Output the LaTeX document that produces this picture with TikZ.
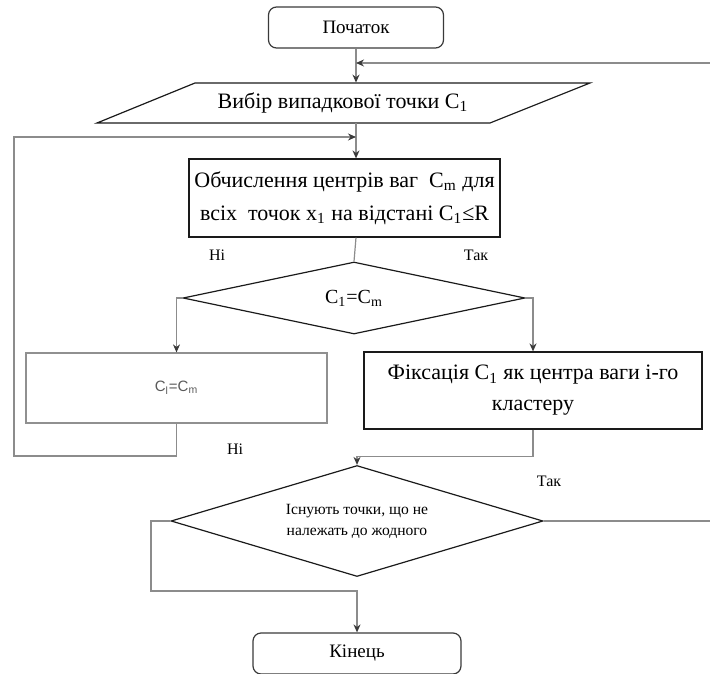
\documentclass[tikz,border=0pt]{standalone}
\usepackage{fontspec}
\setmainfont{Liberation Serif}
\newfontfamily\arialfont{Liberation Sans}
\usetikzlibrary{shapes.geometric,arrows.meta}
\definecolor{chornyi}{HTML}{1A1A1A}
\definecolor{temnyi}{HTML}{3A3A3A}
\definecolor{siryi1}{HTML}{8C8C8C}
\definecolor{siryi2}{HTML}{909090}
\definecolor{siryi3}{HTML}{5A5A5A}

\begin{document}
\begin{tikzpicture}[x=0.5pt,y=-0.5pt,
    terminal/.style={draw=temnyi,line width=0.6pt,rounded corners=4pt,minimum width=104pt,minimum height=20.5pt,font=\fontsize{9.5}{11}\selectfont},
    blok/.style={draw=chornyi,line width=0.6pt,align=center,inner sep=0pt,font=\fontsize{11}{16.5}\selectfont},
    romb/.style={diamond,draw=chornyi,line width=0.6pt,align=center,inner sep=0pt},
    zv/.style={draw=siryi1,line width=0.6pt},
    strilka/.style={zv,-{Stealth[length=4pt,width=3.5pt,color=temnyi]}},
    mitka/.style={font=\fontsize{8}{9.6}\selectfont}]
  \useasboundingbox (0,0) rectangle (710,673);
  \node[terminal,minimum width=87.5pt] (pochatok) at (356,27.5) {Початок};
  \draw[chornyi,line width=0.6pt] (195,83) -- (590,83) -- (490,123) -- (97,123) -- cycle;
  \node[minimum height=20pt,inner sep=0pt,font=\fontsize{11}{16.5}\selectfont] (vybir) at (343,103) {Вибір випадкової точки C\textsubscript{1}};
  \node[blok,minimum width=155.5pt,minimum height=39pt] (obchyslennia) at (344.5,198) {Обчислення центрів ваг~ C\textsubscript{m} для\\ всіх~ точок x\textsubscript{1} на відстані C\textsubscript{1}≤R};
  \node[romb,aspect=4.75,minimum width=171pt,minimum height=36pt,font=\fontsize{10}{12}\selectfont] (rivnist) at (354,298) {C\textsubscript{1}=C\textsubscript{m}};
  \node[blok,draw=siryi2,minimum width=150.5pt,minimum height=35pt,font=\arialfont\fontsize{7.5}{9}\selectfont,text=siryi3] (livyi) at (176.5,388) {C\textsubscript{l}=C\textsubscript{m}};
  \node[blok,minimum width=169pt,minimum height=38.5pt,font=\fontsize{11}{15.5}\selectfont] (pravyi) at (533,390.5) {Фіксація C\textsubscript{1} як центра ваги і-го\\ кластеру};
  \node[romb,aspect=3.4,minimum width=186pt,minimum height=55.5pt,font=\fontsize{7.8}{10.5}\selectfont] (isnuiut) at (357,521) {Існують точки, що не\\ належать до жодного};
  \node[terminal] (kinets) at (357,653.5) {Кінець};
  \node[mitka] (ni1) at (217,255) {Ні};
  \node[mitka] (tak1) at (476,255) {Так};
  \node[mitka] (ni2) at (235,449) {Ні};
  \node[mitka] (tak2) at (549,481) {Так};
  \coordinate (vhid) at (356,63);
  \coordinate (vpravo) at (716,63);
  \coordinate (vlivo) at (14,456);
  \coordinate (vhid2) at (356,137);
  \coordinate (vnyz) at (151,591);
  \draw[strilka] (pochatok.south) -- (pochatok |- vybir.north);
  \draw[strilka] (isnuiut.east) -| (vpravo) -- (vhid);
  \draw[strilka] (vybir.south -| pochatok) -- (pochatok |- obchyslennia.north);
  \draw[strilka] (livyi.south) |- (vlivo) |- (vhid2);
  \draw[zv] (obchyslennia.south -| pochatok) -- (rivnist.north);
  \draw[strilka] (rivnist.west) -| (livyi.north);
  \draw[strilka] (rivnist.east) -| (pravyi.north);
  \draw[strilka] (pravyi.south) -- ++(0,27) -| (isnuiut.north);
  \draw[strilka] (isnuiut.west) -| (vnyz) -| (kinets.north);
\end{tikzpicture}
\end{document}
